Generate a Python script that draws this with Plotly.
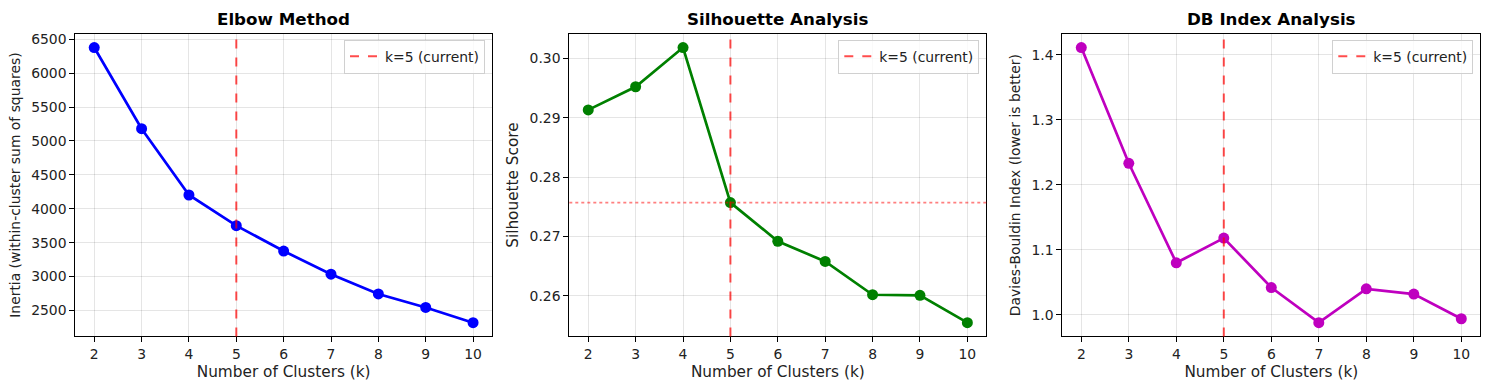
import plotly.graph_objects as go

k_values = [2, 3, 4, 5, 6, 7, 8, 9, 10]
inertia = [6378, 5181, 4203, 3751, 3376, 3035, 2743, 2544, 2320]
silhouette = [0.2913, 0.2952, 0.3018, 0.2757, 0.2692, 0.2658, 0.2602, 0.2601, 0.2555]
db_index = [1.411, 1.233, 1.080, 1.118, 1.042, 0.988, 1.040, 1.032, 0.994]
current_k = 5

titles = ["Elbow Method", "Silhouette Analysis", "DB Index Analysis"]
ylabels = ["Inertia (within-cluster sum of squares)", "Silhouette Score",
           "Davies-Bouldin Index (lower is better)"]
ylabel_sizes = [13.9, 15.3, 13.9]
colors = ["#0000ff", "#008000", "#bf00bf"]
series = [inertia, silhouette, db_index]
yticks = [
    [2500, 3000, 3500, 4000, 4500, 5000, 5500, 6000, 6500],
    [0.26, 0.27, 0.28, 0.29, 0.30],
    [1.0, 1.1, 1.2, 1.3, 1.4],
]
ytickfmt = ["d", ".2f", ".1f"]

W, H = 1489, 390
xdoms = [(75.3, 492.0), (569.3, 986.3), (1062.3, 1480.3)]
ytop, ybot = 31.0, 336.0
FONT = "DejaVu Sans"

fig = go.Figure()
for i in range(3):
    n = "" if i == 0 else str(i + 1)
    xa, ya = "x" + n, "y" + n
    vals = series[i]
    lo, hi = min(vals), max(vals)
    pad = (hi - lo) * 0.05
    fig.add_trace(go.Scatter(
        x=k_values, y=vals, mode="lines+markers", xaxis=xa, yaxis=ya,
        line=dict(color=colors[i], width=2.7),
        marker=dict(color=colors[i], size=11),
        showlegend=False,
    ))
    fig.add_shape(type="line", xref=xa, yref=ya + " domain", x0=current_k, x1=current_k,
                  y0=0, y1=1, line=dict(color="rgba(255,0,0,0.7)", width=2, dash="dash"),
                  showlegend=True, name="k=5 (current)", legend="legend" + n)
    if i == 1:
        fig.add_shape(type="line", xref=xa + " domain", yref=ya, x0=0, x1=1,
                      y0=silhouette[k_values.index(current_k)],
                      y1=silhouette[k_values.index(current_k)],
                      line=dict(color="rgba(255,0,0,0.5)", width=1.8, dash="dot"))
    x0, x1 = xdoms[i]
    fig.update_layout(**{
        "xaxis" + n: dict(
            domain=[x0 / W, x1 / W], anchor=ya, range=[1.6, 10.4],
            tickvals=k_values, ticks="outside", ticklen=5, tickcolor="black",
            showline=True, linecolor="black", linewidth=1, mirror=True,
            showgrid=True, gridcolor="rgba(0,0,0,0.1)", gridwidth=1, zeroline=False,
            tickfont=dict(family=FONT, size=13.9, color="#222"),
            title=dict(text="Number of Clusters (k)", standoff=5,
                       font=dict(family=FONT, size=15.3, color="#222")),
        ),
        "yaxis" + n: dict(
            domain=[1 - ybot / H, 1 - ytop / H], anchor=xa, range=[lo - pad, hi + pad],
            tickvals=yticks[i], tickformat=ytickfmt[i], ticks="outside", ticklen=5,
            tickcolor="black", showline=True, linecolor="black", linewidth=1, mirror=True,
            showgrid=True, gridcolor="rgba(0,0,0,0.1)", gridwidth=1, zeroline=False,
            tickfont=dict(family=FONT, size=13.9, color="#222"),
            title=dict(text=ylabels[i], standoff=7,
                       font=dict(family=FONT, size=ylabel_sizes[i], color="#222")),
        ),
        "legend" + n: dict(
            x=(x1 - 7) / W, xanchor="right", y=1 - 37 / H, yanchor="top",
            bgcolor="rgba(255,255,255,0.8)", bordercolor="#d0d0d0", borderwidth=1,
            font=dict(family=FONT, size=13.9, color="#222"),
        ),
    })
    fig.add_annotation(text="<b>%s</b>" % titles[i], xref="paper", yref="paper",
                       x=(x0 + x1) / 2 / W, y=1 - 16 / H, xanchor="center", yanchor="middle",
                       showarrow=False, font=dict(family=FONT, size=16.7, color="black"))

fig.update_layout(width=W, height=H, margin=dict(l=0, r=0, t=0, b=0),
                  paper_bgcolor="white", plot_bgcolor="white")
fig.write_html("out.html", config={"displayModeBar": False},
               post_script="document.body.style.margin='0';")
